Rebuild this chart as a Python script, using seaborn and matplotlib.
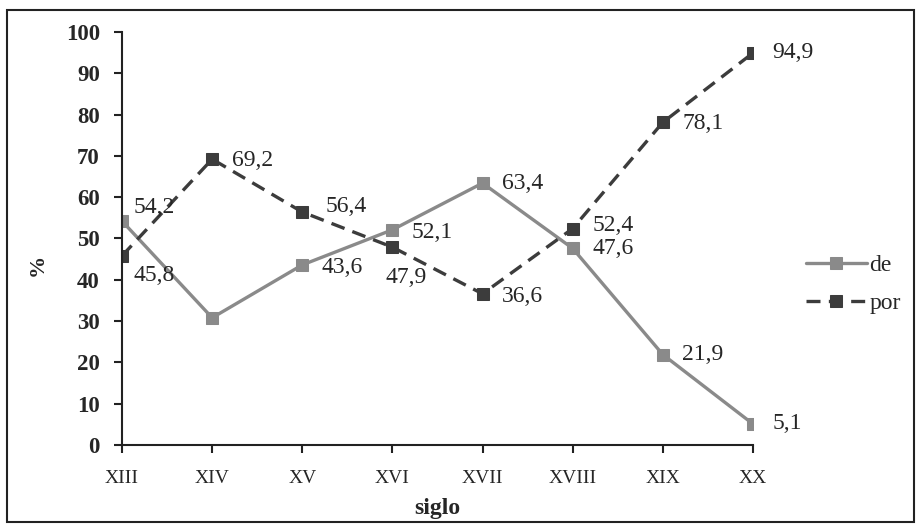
import numpy as np
import pandas as pd
import matplotlib
matplotlib.use("Agg")
import matplotlib.pyplot as plt
from matplotlib.patches import Rectangle
import seaborn as sns

# datos
siglos = ["XIII", "XIV", "XV", "XVI", "XVII", "XVIII", "XIX", "XX"]
de_vals = [54.2, 30.8, 43.6, 52.1, 63.4, 47.6, 21.9, 5.1]
por_vals = [45.8, 69.2, 56.4, 47.9, 36.6, 52.4, 78.1, 94.9]
# etiquetas visibles (None = sin etiqueta)
de_labels = ["54,2", None, "43,6", "52,1", "63,4", "47,6", "21,9", "5,1"]
por_labels = ["45,8", "69,2", "56,4", "47,9", "36,6", "52,4", "78,1", "94,9"]

sns.set_theme(style="white")
plt.rcParams['font.family'] = ['Liberation Serif', 'DejaVu Serif']

df = pd.DataFrame({"pos": np.arange(len(siglos)), "de": de_vals, "por": por_vals})

fig = plt.figure(figsize=(9.21, 5.32), dpi=100)
ax = fig.add_axes([0.1325, 0.1635, 0.685, 0.7765])

c_de = "#8a8a8a"
c_por = "#3c3c3c"

sns.lineplot(data=df, x="pos", y="de", ax=ax, color=c_de, linewidth=2.4,
             marker="s", markersize=9, markeredgecolor=c_de, label="de")
sns.lineplot(data=df, x="pos", y="por", ax=ax, color=c_por, linewidth=2.4,
             linestyle=(0, (4.2, 2.5)), marker="s", markersize=9,
             markeredgecolor=c_por, label="por")

# posiciones de etiquetas (offset en puntos)
de_off = [(8, 10), None, (14, -2), (14, -2), (14, 0), (14, 0), (14, 0), (14, 0)]
por_off = [(8, -14), (14, -1), (17, 4), (-5, -22), (14, -2), (14, 2), (14, -1), (14, 0)]
for i in range(len(siglos)):
    if de_labels[i] is not None:
        ax.annotate(de_labels[i], (i, de_vals[i]), xytext=de_off[i],
                    textcoords="offset points", fontsize=17, va="center", ha="left")
    ax.annotate(por_labels[i], (i, por_vals[i]), xytext=por_off[i],
                textcoords="offset points", fontsize=17, va="center", ha="left")

ax.set_xlim(0, 7)
ax.set_ylim(0, 100)
ax.set_xticks(range(len(siglos)))
ax.set_xticklabels(siglos, fontsize=14)
ax.set_yticks(range(0, 101, 10))
for t in ax.get_yticklabels():
    t.set_fontsize(16.5)
    t.set_fontweight("bold")
ax.set_xlabel("siglo", fontsize=17, fontweight="bold", labelpad=8)
ax.set_ylabel("%", fontsize=16, fontweight="bold")
ax.yaxis.set_label_coords(-0.118, 0.435)

sns.despine(ax=ax)
for s in ["left", "bottom"]:
    ax.spines[s].set_color("#222222")
    ax.spines[s].set_linewidth(1.5)
ax.tick_params(axis="both", direction="out", length=6, width=1.5, color="#222222",
               left=True, bottom=True)
ax.tick_params(axis="y", pad=10)
ax.tick_params(axis="x", pad=12)

ax.legend(loc="center left", bbox_to_anchor=(0.862, 0.466), bbox_transform=fig.transFigure,
          frameon=False, fontsize=17, handlelength=2.6, handletextpad=0.1,
          labelspacing=0.7, borderpad=0)

# marco exterior
fig.patches.append(Rectangle((0.008, 0.019), 0.984, 0.962, transform=fig.transFigure,
                             fill=False, edgecolor="#222222", linewidth=1.5))

fig.savefig("out.png", dpi=100)
